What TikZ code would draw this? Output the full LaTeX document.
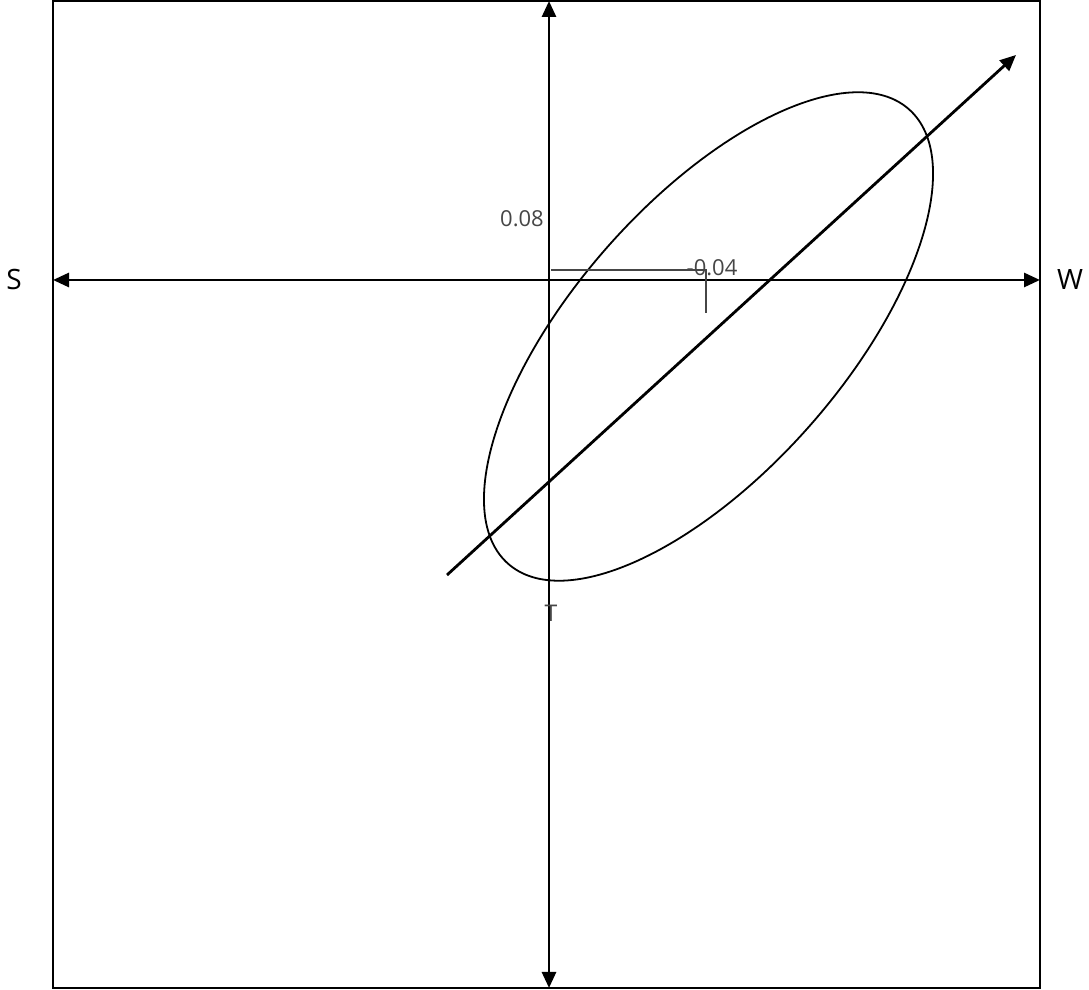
\documentclass[tikz,border=0pt]{standalone}
\usepackage{fontspec}
\setmainfont{Open Sans}
\usepackage{tikz}
\usetikzlibrary{arrows.meta,positioning,calc}
\definecolor{plot@ink}{RGB}{0,0,0}
\definecolor{plot@gray}{RGB}{70,70,70}
\tikzset{
  plot/.style={
    x=1pt, y=1pt,
    >={Triangle[length=16pt,width=14pt]},
    line width=1.5pt
  },
  frame/.style={draw=plot@ink, line width=1.6pt},
  axis/.style={<->, line width=2.8pt, draw=plot@ink},
  trend/.style={->, line width=2.8pt, draw=plot@ink},
  contour/.style={draw=plot@ink, line width=1.8pt},
  bracket/.style={draw=plot@gray, line width=1.4pt},
  axlabel/.style={font=\fontsize{28}{30}\selectfont, text=plot@ink},
  vallabel/.style={font=\fontsize{22}{24}\selectfont, text=plot@gray, inner sep=0pt},
  tlabel/.style={font=\fontsize{23}{25}\selectfont, text=plot@gray, inner sep=0pt}
}
\begin{document}
\begin{tikzpicture}[plot]
\useasboundingbox (0,0) rectangle (1089,990);
% outer frame
\draw[frame] (53,2) rectangle (1040,989);

% axis ends
\coordinate (west) at (53,710);
\coordinate (east) at (1040,710);
\coordinate (top) at (549,989);
\coordinate (bottom) at (549,2);

% axis labels
\node[axlabel] (S) at (14,710) {S};
\node[axlabel] (W) at (1070,710) {W};

% axes
\draw[axis] (west) -- (east);
\draw[axis] (bottom) -- (top);

% tilted ellipse and its main direction
\draw[contour] (708.5,653.5) ellipse[x radius=303, y radius=135, rotate=48.6];
\coordinate (tstart) at (447,415);
\coordinate (tend) at (1016,935);
\draw[trend] (tstart) -- (tend);

% small offset bracket
\coordinate (b0) at (551,720);
\coordinate (b1) at (706,720);
\coordinate (b2) at (706,677);
\draw[bracket] (b0) -- (b1) -- (b2);

% values
\node[vallabel] (v08) at (522,771) {0.08};
\node[vallabel] (v04) at (712,722) {-0.04};
\node[tlabel] (T) at (551,377) {T};
\end{tikzpicture}
\end{document}
